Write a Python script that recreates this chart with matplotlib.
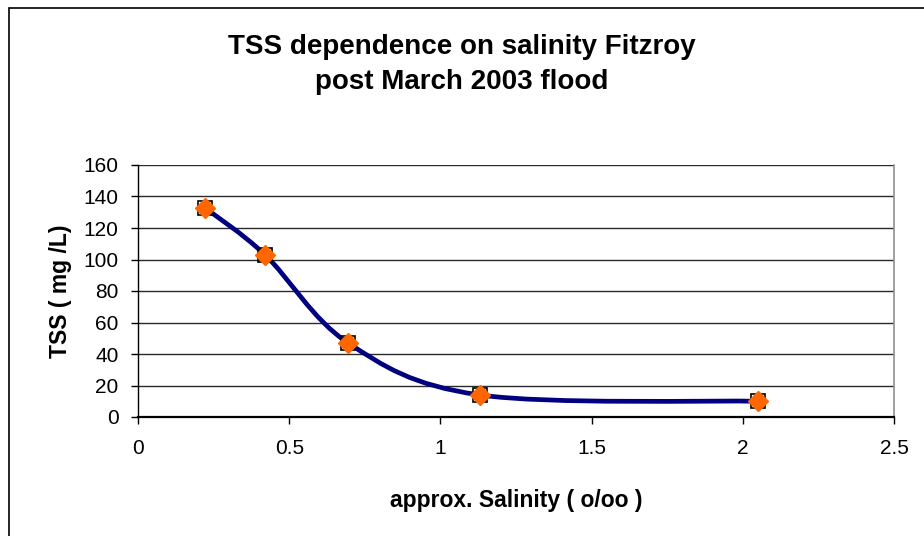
import matplotlib.pyplot as plt
from matplotlib.path import Path
from matplotlib.patches import PathPatch, Rectangle

plt.rcParams['font.family'] = ['Liberation Sans', 'DejaVu Sans']

# data
salinity = [0.22, 0.42, 0.695, 1.13, 2.05]
tss = [133, 103, 47, 14, 10]
x_ticks = [0, 0.5, 1, 1.5, 2, 2.5]
x_tick_labels = ['0', '0.5', '1', '1.5', '2', '2.5']
y_ticks = [0, 20, 40, 60, 80, 100, 120, 140, 160]


def smooth_path(xs, ys):
    """
    Excel-style smoothed line: cubic Bezier segments through the points.
    """
    pts = list(zip(xs, ys))
    verts = [pts[0]]
    codes = [Path.MOVETO]
    n = len(pts)
    for i in range(n - 1):
        p0 = pts[max(i - 1, 0)]
        p1 = pts[i]
        p2 = pts[i + 1]
        p3 = pts[min(i + 2, n - 1)]
        c1 = (p1[0] + (p2[0] - p0[0]) / 6, p1[1] + (p2[1] - p0[1]) / 6)
        c2 = (p2[0] - (p3[0] - p1[0]) / 6, p2[1] - (p3[1] - p1[1]) / 6)
        verts += [c1, c2, p2]
        codes += [Path.CURVE4] * 3
    return Path(verts, codes)


W, H = 924, 536
fig = plt.figure(figsize=(W / 100, H / 100), dpi=100)
fig.patches.append(Rectangle((8.5 / W, -0.1), 1, 1.1 - 7.5 / H, transform=fig.transFigure,
                             fill=False, edgecolor='black', linewidth=1.2))

left, right, top, bottom = 138, 894, 165, 417
ax = fig.add_axes([left / W, 1 - bottom / H, (right - left) / W, (bottom - top) / H])
ax.set_xlim(0, 2.5)
ax.set_ylim(0, 160)

for y in y_ticks[1:]:
    ax.axhline(y, color='#2a2a2a', linewidth=1, zorder=1)

ax.add_patch(PathPatch(smooth_path(salinity, tss), fill=False,
                       edgecolor='#000080', linewidth=3.4, zorder=2,
                       capstyle='round', joinstyle='round'))
# small black corner bits peeking out behind the diamonds
ax.plot(salinity, tss, linestyle='none', marker='s', markersize=9.5,
        markerfacecolor='none', markeredgecolor='black', markeredgewidth=1.2, zorder=3)
ax.plot(salinity, tss, linestyle='none', marker='D', markersize=10,
        markerfacecolor='#FF6600', markeredgecolor='#FF6600', markeredgewidth=1, zorder=4)

ax.spines['top'].set_visible(False)
ax.spines['right'].set_color('#909090')
ax.spines['right'].set_linewidth(1.2)
ax.spines['left'].set_linewidth(1)
ax.spines['bottom'].set_linewidth(1.6)

ax.set_xticks(x_ticks)
ax.set_xticklabels(x_tick_labels)
ax.set_yticks(y_ticks)
ax.tick_params(axis='both', labelsize=15, direction='out', length=5, width=1)
ax.tick_params(axis='x', pad=11)
ax.tick_params(axis='y', pad=9)

fig.text(516 / W, 1 - 500 / H, 'approx. Salinity ( o/oo )', ha='center', va='center',
         fontsize=16.5, fontweight='bold')
fig.text(61 / W, 1 - 291 / H, 'TSS ( mg /L)', ha='center', va='center', rotation=90,
         fontsize=16.5, fontweight='bold')

fig.text(0.5, 1 - 54 / H, 'TSS dependence on salinity Fitzroy',
         ha='center', va='baseline', fontsize=20, fontweight='bold')
fig.text(0.5, 1 - 89 / H, 'post March 2003 flood',
         ha='center', va='baseline', fontsize=20, fontweight='bold')

fig.savefig('out.png', dpi=100)
plt.close(fig)
